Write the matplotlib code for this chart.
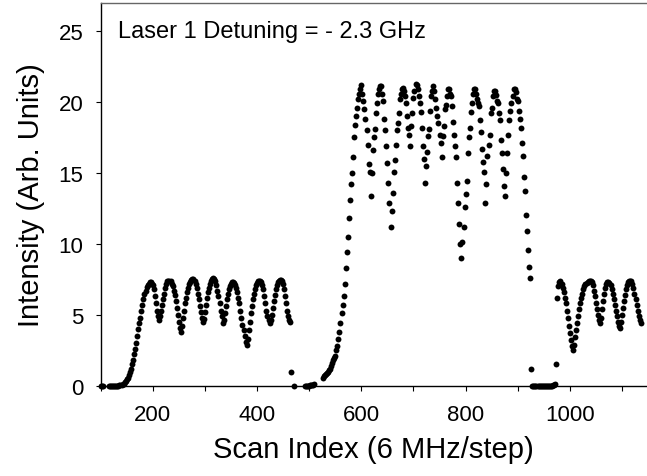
import numpy as np
import matplotlib
matplotlib.use('Agg')
import matplotlib.pyplot as plt

nan = np.nan
step = 2  # scan index spacing between samples

# segment 1: scan index 100 .. 470
seg1_start = 100
seg1_intensity = [
    0, 0, 0, nan, nan, nan, nan, nan, 0, 0,
    0, 0, 0, 0, 0, 0, 0, 0, 0.02, 0.03,
    0.05, 0.1, 0.15, 0.25, 0.35, 0.45, 0.55, 0.75, 0.95, 1.2,
    1.5, 1.8, 2.2, 2.6, 3.0, 3.5, 4.0, 4.4, 4.8, 5.3,
    5.7, 6.1, 6.5, 6.7, 6.95, 7.1, 7.2, 7.3, 7.3, 7.2,
    7.1, 6.8, 6.3, 5.8, 5.3, 4.9, 4.6, 4.9, 5.3, 5.7,
    6.1, 6.5, 6.9, 7.2, 7.35, 7.4, 7.4, 7.35, 7.2, 7.0,
    6.7, 6.4, 6.0, 5.5, 5.0, 4.5, 4.1, 3.8, 4.2, 4.8,
    5.3, 5.8, 6.2, 6.6, 6.9, 7.15, 7.3, 7.45, 7.5, 7.5,
    7.4, 7.2, 6.9, 6.5, 6.1, 5.6, 5.2, 4.8, 4.5, 4.7,
    5.2, 5.7, 6.2, 6.6, 6.9, 7.2, 7.4, 7.5, 7.6, 7.55,
    7.4, 7.1, 6.7, 6.3, 5.8, 5.3, 4.9, 4.4, 4.6, 5.1,
    5.6, 6.1, 6.5, 6.8, 7.05, 7.2, 7.3, 7.3, 7.25, 7.1,
    6.9, 6.6, 6.2, 5.8, 5.3, 4.8, 4.3, 3.9, 3.5, 3.1,
    2.9, 3.3, 3.9, 4.5, 5.1, 5.6, 6.1, 6.5, 6.8, 7.1,
    7.25, 7.35, 7.4, 7.4, 7.3, 7.1, 6.8, 6.3, 5.8, 5.3,
    4.9, 4.6, 4.4, 4.6, 5.0, 5.5, 6.0, 6.4, 6.8, 7.1,
    7.3, 7.4, 7.45, 7.45, 7.4, 7.2, 6.8, 6.3, 5.8, 5.3,
    4.9, 4.6, 4.5, 0.95, nan, 0.0,
]

# segment 2: scan index 490 .. 926
seg2_start = 490
seg2_intensity = [
    nan, 0, 0, 0, 0, 0, 0.02, 0.03, 0.05, 0.07,
    0.1, nan, nan, nan, nan, nan, nan, nan, 0.55, 0.65,
    0.75, 0.8, 0.9, 1.0, 1.1, 1.2, 1.4, 1.6, 1.8, 1.95,
    2.1, 2.5, 2.8, 3.3, 3.8, 4.4, 5.1, 5.7, 6.3, 7.2,
    8.3, 9.4, 10.5, 11.8, 13.1, 14.2, 15.0, 16.1, 17.5, 18.4,
    19.0, 19.6, 20.2, 20.6, 20.9, 21.2, 20.6, 20.1, 19.5, 18.8,
    18.0, 17.0, 15.6, 15.1, 13.4, 15.0, 16.6, 17.5, 18.1, 19.2,
    19.9, 20.6, 20.9, 21.1, 21.1, 20.6, 20.1, 18.8, 18.0, 16.9,
    15.7, 14.3, 12.9, 11.2, 12.3, 13.6, 15.1, 15.9, 17.0, 18.0,
    18.5, 19.2, 20.2, 20.6, 20.9, 21.0, 20.8, 20.4, 19.9, 19.0,
    18.2, 17.7, 16.9, 18.3, 19.2, 20.3, 20.8, 21.3, 21.2, 20.9,
    20.4, 19.9, 19.3, 18.2, 16.9, 16.0, 14.3, 15.5, 16.5, 17.6,
    18.1, 19.4, 20.4, 20.8, 21.1, 20.8, 20.2, 19.6, 19.0, 18.5,
    17.7, 17.1, 16.1, 17.6, 18.3, 19.5, 19.8, 20.4, 20.9, 20.9,
    20.6, 20.4, 19.7, 18.6, 17.7, 16.9, 16.1, 14.3, 12.9, 11.4,
    10.0, 9.0, 10.1, 11.2, 12.6, 13.5, 14.4, 16.4, 17.5, 18.2,
    19.3, 19.9, 20.6, 20.9, 20.9, 20.6, 20.2, 19.9, 19.7, 18.7,
    17.9, 16.7, 15.8, 15.1, 12.9, 14.2, 16.2, 17.0, 17.7, 19.2,
    19.6, 20.4, 20.8, 20.8, 20.5, 20.1, 19.9, 19.2, 18.7, 17.3,
    16.4, 15.3, 14.1, 13.4, 15.0, 16.4, 17.7, 18.7, 19.4, 19.9,
    20.4, 20.9, 20.9, 20.7, 20.2, 20.1, 19.4, 18.8, 18.15, 17.1,
    16.2, 14.7, 13.7, 12.0, 10.9, 9.6, 8.4, 7.6, 1.2,
]

# segment 3: scan index 928 .. 1136
seg3_start = 928
seg3_intensity = [
    0, 0, 0, 0, 0, 0, 0, 0, 0, 0,
    0, 0, 0, 0, 0, 0, 0, 0, 0, 0,
    0.03, 0.05, 0.1, 1.5, 6.2, 7.0, 7.3, 7.35, 7.2, 6.9,
    6.6, 6.2, 5.8, 5.3, 4.8, 4.2, 3.7, 3.2, 2.8, 2.5,
    2.9, 3.4, 3.9, 4.4, 4.9, 5.4, 5.8, 6.2, 6.5, 6.8,
    7.0, 7.15, 7.25, 7.3, 7.35, 7.4, 7.4, 7.3, 7.1, 6.7,
    6.3, 5.8, 5.4, 5.0, 4.6, 4.4, 4.8, 5.4, 6.0, 6.5,
    6.9, 7.15, 7.3, 7.3, 7.25, 7.1, 6.8, 6.5, 6.1, 5.7,
    5.3, 4.9, 4.5, 4.2, 4.1, 4.5, 5.0, 5.5, 6.0, 6.4,
    6.8, 7.1, 7.3, 7.4, 7.4, 7.35, 7.2, 6.9, 6.5, 6.1,
    5.7, 5.3, 4.9, 4.6, 4.4,
]

segments = [(seg1_start, seg1_intensity),
            (seg2_start, seg2_intensity),
            (seg3_start, seg3_intensity)]

x_ticks = [200, 400, 600, 800, 1000]
y_ticks = [0, 5, 10, 15, 20, 25]

plt.rcParams['font.family'] = ['Liberation Sans', 'DejaVu Sans']

fig = plt.figure(figsize=(6.47, 4.77), dpi=100)
ax = fig.add_axes([0.1556, 0.1893, 0.8444, 0.8029])

for start, vals in segments:
    y = np.array(vals, dtype=float)
    x = start + step * np.arange(len(y))
    ax.scatter(x, y, s=18, color='black', linewidths=0, clip_on=False, zorder=3)

ax.set_xlim(100, 1148)
ax.set_ylim(0, 27)
ax.set_xticks(x_ticks)
ax.set_xticks(np.arange(100, 1148, 100), minor=True)
ax.set_yticks(y_ticks)

ax.spines['right'].set_visible(False)
ax.spines['top'].set_color('#666666')
ax.spines['left'].set_color('black')
ax.spines['bottom'].set_color('black')
for s in ['top', 'left', 'bottom']:
    ax.spines[s].set_linewidth(1.0)

ax.tick_params(axis='both', which='both', direction='out', length=3.5, width=0.8,
               labelsize=16, colors='black')
ax.tick_params(axis='x', pad=10)
ax.tick_params(axis='y', pad=9)

ax.set_xlabel('Scan Index (6 MHz/step)', fontsize=21, labelpad=7)
ax.set_ylabel('Intensity (Arb. Units)', fontsize=21, labelpad=10)

ax.text(133, 25, 'Laser 1 Detuning = - 2.3 GHz', fontsize=17, va='center', ha='left')

fig.savefig('out.png', dpi=100)
